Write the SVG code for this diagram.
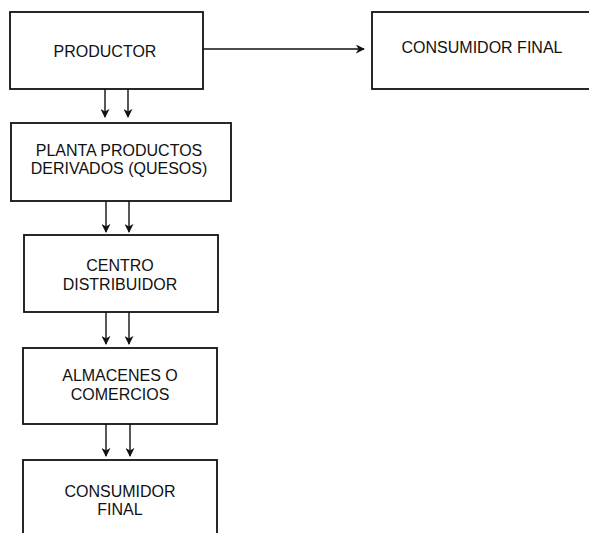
<svg xmlns="http://www.w3.org/2000/svg" width="589" height="533" viewBox="0 0 589 533">
<defs>
<style>
.box{fill:#fff;stroke:#111;stroke-width:1.8}
.t{font-family:"Liberation Sans",Arial,sans-serif;font-size:16px;fill:#111;text-anchor:middle}
.c{stroke:#111;stroke-width:1.4;fill:none}
</style>
<marker id="ah" viewBox="0 0 10 10" refX="9" refY="5" markerWidth="9" markerHeight="9" markerUnits="userSpaceOnUse" orient="auto">
<path d="M0,0 L10,5 L0,10 L3,5 Z" fill="#111"/>
</marker>
</defs>
<rect width="589" height="533" fill="#fff"/>
<g id="productor"><rect class="box" x="10" y="12" width="193" height="77"/><text class="t" x="105" y="57">PRODUCTOR</text></g>
<g id="consumidor-final-top"><rect class="box" x="372" y="12" width="222" height="77"/><text class="t" x="482" y="53">CONSUMIDOR FINAL</text></g>
<g id="planta"><rect class="box" x="11" y="123" width="220" height="78"/><text class="t" x="119" y="156">PLANTA PRODUCTOS</text><text class="t" x="119" y="174">DERIVADOS (QUESOS)</text></g>
<g id="centro"><rect class="box" x="24" y="235" width="194" height="77"/><text class="t" x="120" y="271">CENTRO</text><text class="t" x="120" y="290">DISTRIBUIDOR</text></g>
<g id="almacenes"><rect class="box" x="23" y="348" width="194" height="76"/><text class="t" x="120" y="381">ALMACENES O</text><text class="t" x="120" y="400">COMERCIOS</text></g>
<g id="consumidor-final-bottom"><rect class="box" x="23" y="460" width="194" height="90"/><text class="t" x="120" y="497">CONSUMIDOR</text><text class="t" x="120" y="515">FINAL</text></g>
<g id="connectors">
<line class="c" x1="203" y1="49" x2="364" y2="49" marker-end="url(#ah)"/>
<line class="c" x1="105" y1="89" x2="105" y2="117" marker-end="url(#ah)"/>
<line class="c" x1="128" y1="89" x2="128" y2="117" marker-end="url(#ah)"/>
<line class="c" x1="106" y1="201" x2="106" y2="232" marker-end="url(#ah)"/>
<line class="c" x1="129" y1="201" x2="129" y2="232" marker-end="url(#ah)"/>
<line class="c" x1="106" y1="312" x2="106" y2="344" marker-end="url(#ah)"/>
<line class="c" x1="129" y1="312" x2="129" y2="344" marker-end="url(#ah)"/>
<line class="c" x1="106" y1="424" x2="106" y2="456" marker-end="url(#ah)"/>
<line class="c" x1="130" y1="424" x2="130" y2="456" marker-end="url(#ah)"/>
</g>
</svg>
